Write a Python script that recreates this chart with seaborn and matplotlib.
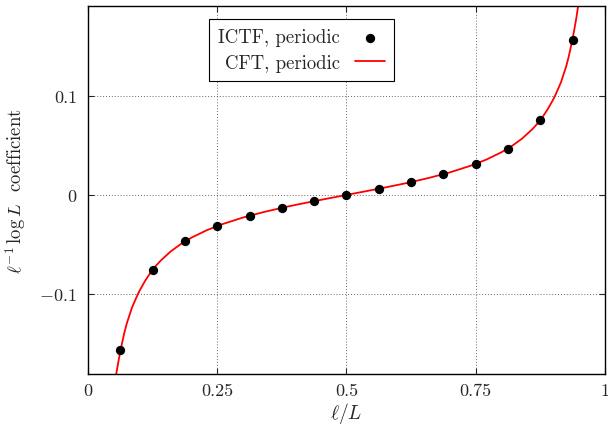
import numpy as np
import pandas as pd
import matplotlib
matplotlib.use("Agg")
import matplotlib.pyplot as plt
import seaborn as sns

# ICTF points
ictf_x = [1/16, 2/16, 3/16, 4/16, 5/16, 6/16, 7/16, 8/16,
          9/16, 10/16, 11/16, 12/16, 13/16, 14/16, 15/16]
ictf_y = [-0.157, -0.0754, -0.0468, -0.0313, -0.0209, -0.0129, -0.0062, 0.0,
          0.0062, 0.0129, 0.0209, 0.0313, 0.0468, 0.0754, 0.157]

# CFT curve
cft_x = [0.05, 0.055, 0.06, 0.065, 0.07, 0.075, 0.08, 0.085, 0.09, 0.095,
         0.10, 0.11, 0.12, 0.13, 0.14, 0.16, 0.18,
         0.20, 0.23, 0.26, 0.30, 0.34, 0.38, 0.42, 0.46, 0.50,
         0.54, 0.58, 0.62, 0.66, 0.70, 0.74, 0.77, 0.80, 0.82, 0.84, 0.86,
         0.87, 0.88, 0.89, 0.90, 0.905, 0.91, 0.915, 0.92, 0.925, 0.93,
         0.935, 0.94, 0.945, 0.95]
cft_y = [-0.198, -0.180, -0.165, -0.152, -0.140, -0.130, -0.122, -0.114,
         -0.108, -0.102, -0.0966, -0.0873, -0.0793, -0.0725, -0.0667,
         -0.0571, -0.0495, -0.0432, -0.0356, -0.0295, -0.0228,
         -0.0173, -0.0124, -0.0081, -0.0040, 0.0,
         0.0040, 0.0081, 0.0124, 0.0173, 0.0228, 0.0295, 0.0356, 0.0432,
         0.0495, 0.0571, 0.0667, 0.0725, 0.0793, 0.0873, 0.0966, 0.102,
         0.108, 0.114, 0.122, 0.130, 0.140, 0.152, 0.165, 0.180, 0.198]

x_ticks = [0, 0.25, 0.5, 0.75, 1]
x_ticklabels = ["0", "0.25", "0.5", "0.75", "1"]
y_ticks = [-0.1, 0, 0.1]
y_ticklabels = [r"$-$0.1", "0", "0.1"]

sns.set_style("ticks")
plt.rcParams["mathtext.fontset"] = "cm"
plt.rcParams["font.family"] = ["cmr10", "DejaVu Serif"]
plt.rcParams["axes.unicode_minus"] = False

fig = plt.figure(figsize=(6.08, 4.27), dpi=100)
ax = fig.add_axes([0.1447, 0.1218, 0.8503, 0.8618])

sns.lineplot(x=cft_x, y=cft_y, ax=ax, color="#ff0000", linewidth=1.3,
             label="CFT, periodic", sort=False)
sns.scatterplot(x=ictf_x, y=ictf_y, ax=ax, color="black", s=45,
                edgecolor="black", linewidth=0, zorder=3,
                label="ICTF, periodic")

ax.set_xlim(0, 1)
ax.set_ylim(-0.181, 0.191)
ax.set_xticks(x_ticks)
ax.set_xticklabels(x_ticklabels, fontsize=13)
ax.set_yticks(y_ticks)
ax.set_yticklabels(y_ticklabels, fontsize=13)
ax.tick_params(direction="in", top=True, right=True, length=4, width=0.8)
ax.tick_params(axis="x", pad=6)
ax.tick_params(axis="y", pad=8)
ax.grid(True, linestyle=(0, (1, 2)), color="#666666", linewidth=0.7)
for s in ax.spines.values():
    s.set_linewidth(1.0)
    s.set_color("black")

ax.set_xlabel(r"$\ell/L$", fontsize=14, labelpad=2)
ax.set_ylabel(r"$\ell^{-1}\,\log L$  coefficient", fontsize=13.5, labelpad=8)

handles, labels = ax.get_legend_handles_labels()
leg = ax.legend(handles[::-1], labels[::-1], loc="upper left",
                bbox_to_anchor=(0.215, 0.99), markerfirst=False, fontsize=13.5,
                frameon=True, fancybox=False, edgecolor="black", framealpha=1,
                handlelength=1.6, borderpad=0.5, labelspacing=0.4)
leg.get_frame().set_linewidth(0.8)

fig.savefig("out.png", dpi=100)
